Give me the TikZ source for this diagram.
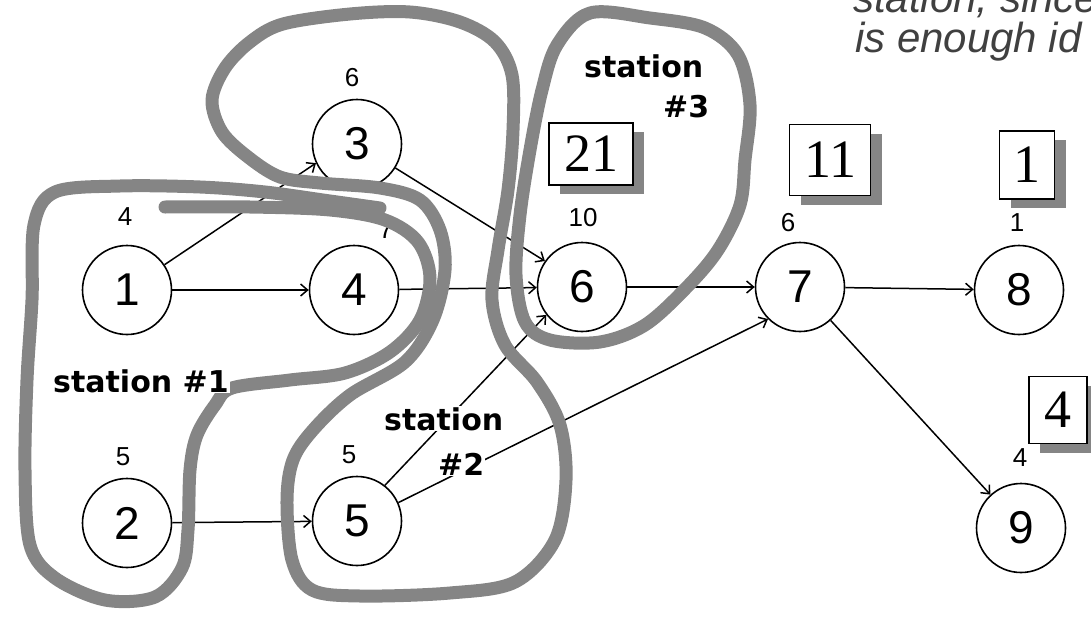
\documentclass[tikz,border=0pt]{standalone}
\usepackage{fontspec}
\setmainfont{Liberation Sans}
\newfontfamily\serifnum{Liberation Serif}
\newfontfamily\stfont{DejaVu Sans}
\usetikzlibrary{arrows.meta,shadows}
\tikzset{
  num/.style={circle, draw, line width=1.6pt, minimum size=89pt, inner sep=0pt, font=\fontsize{46}{50}\selectfont},
  small/.style={font=\fontsize{26}{28}\selectfont, inner sep=0pt},
  arr/.style={line width=1.5pt, -{Straight Barb[length=7pt,width=12pt,line width=1.5pt]}},
  band/.style={line width=13pt, draw=black!48, line cap=round, line join=round},
  stlabel/.style={font=\stfont\bfseries\fontsize{30}{32}\selectfont, fill=white, inner sep=1pt, anchor=base west},
  tally/.style={draw, line width=1.5pt, fill=white, font=\serifnum\fontsize{54}{58}\selectfont, inner sep=0pt,
    drop shadow={shadow xshift=11pt, shadow yshift=-9pt, fill=black!48, opacity=1}},
  note/.style={anchor=base west, inner sep=0pt, text=black!75, font=\itshape\fontsize{42}{44}\selectfont},
}
\begin{document}
\begin{tikzpicture}[x=1pt,y=-1pt]
\useasboundingbox (0,0) rectangle (1091,616);
\clip (0,0) rectangle (1091,616);
% nodes
\node[num] (n1) at (127,290) {1};
\node[num] (n2) at (127,523) {2};
\node[num] (n3) at (357,144) {3};
\node[num] (n4) at (354,290) {4};
\node[num] (n5) at (357,521) {5};
\node[num] (n6) at (582,287) {6};
\node[num] (n7) at (800,287) {7};
\node[num] (n8) at (1019,290) {8};
\node[num] (n9) at (1021,528) {9};
% small labels
\node[small] (l1) at (125,217) {4};
\node[small] (l2) at (123,457) {5};
\node[small] (l3) at (352,78) {6};
\node[small] (l4) at (386,230) {7};
\node[small] (l5) at (349,455) {5};
\node[small] (l6) at (583,218) {10};
\node[small] (l7) at (788,223) {6};
\node[small] (l8) at (1017,223) {1};
\node[small] (l9) at (1020,458) {4};
% arrows
\draw[arr] (n1) -- (n4);
\draw[arr] (n1.34) -- (n3.205);
\draw[arr] (n2) -- (n5);
\draw[arr] (n3.328) -- (n6.145);
\draw[arr] (n4) -- (n6);
\draw[arr] (n5.52) -- (n6.218);
\draw[arr] (n5.24) -- (n7.225);
\draw[arr] (n6) -- (n7);
\draw[arr] (n7) -- (n8);
\draw[arr] (n7) -- (n9);
% station outlines
\draw[band] plot[smooth, tension=0.55] coordinates {(165,207) (250,207) (330,210) (385,220) (418,242) (430,278) (420,320) (390,352) (345,373) (290,380) (232,388) (215,405) (197,435) (190,470) (188,530) (182,568) (155,597) (105,600) (55,578) (30,545) (25,470) (27,380) (32,300) (34,225) (55,192) (120,186) (200,187) (265,192) (330,201) (380,208)};
\draw[band] plot[smooth cycle, tension=0.55] coordinates {(283,24) (350,14) (410,12) (460,22) (495,42) (512,75) (513,130) (508,190) (498,250) (492,300) (505,345) (537,382) (560,425) (566,480) (555,540) (515,582) (450,593) (360,596) (312,590) (292,560) (287,500) (293,460) (313,430) (350,395) (405,362) (433,320) (445,270) (440,230) (420,200) (380,188) (320,183) (280,177) (248,157) (222,132) (212,100) (225,68) (250,42)};
\draw[band] plot[smooth cycle, tension=0.55] coordinates {(590,13) (650,18) (705,28) (738,55) (750,105) (745,160) (740,205) (718,250) (687,287) (645,325) (600,342) (550,340) (525,322) (516,275) (520,215) (530,150) (542,90) (557,45)};
% station labels
\node[stlabel] (s1) at (52,392) {station \#1};
\node[stlabel] (s2a) at (383,430) {station};
\node[stlabel] (s2b) at (437,475) {\#2};
\node[stlabel, fill=none] (s3a) at (583,77) {station};
\node[stlabel, fill=none] (s3b) at (662,117) {\#3};
% tallies
\node[tally, minimum width=84pt, minimum height=62pt] (b21) at (591,154) {21};
\node[tally, minimum width=81pt, minimum height=71pt] (b11) at (830,160) {11};
\node[tally, minimum width=55pt, minimum height=68pt] (b1) at (1027,165) {1};
\node[tally, minimum width=58pt, minimum height=67pt] (b4) at (1058,410) {4};
% cut-off note
\node[note] (t1) at (853,12) {station, since};
\node[note] (t2) at (855,52) {is enough id};
\end{tikzpicture}
\end{document}
